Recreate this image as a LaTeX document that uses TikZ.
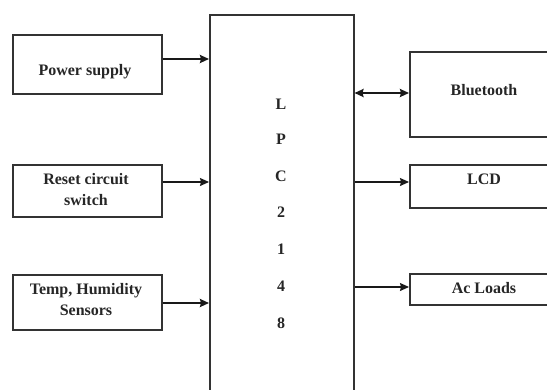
\documentclass[tikz,border=0pt]{standalone}
\usepackage{fontspec}
\setmainfont{Liberation Serif}
\usetikzlibrary{arrows.meta}
\begin{document}
\begin{tikzpicture}[x=1pt,y=-1pt,
  box/.style={draw=black!80,line width=1.5pt,inner sep=0pt,anchor=north west},
  txt/.style={font=\fontsize{16}{21}\selectfont\bfseries,text=black!85,align=center,inner sep=0pt},
  thk/.style={line width=2.6pt,draw=black!90,-{Stealth[length=9pt,width=8pt,inset=1pt]}},
  thn/.style={line width=1.1pt,draw=black!90,-{Stealth[length=9pt,width=8pt,inset=1pt]}},
  dbl/.style={line width=2.6pt,draw=black!90,{Stealth[length=9pt,width=8pt,inset=1pt]}-{Stealth[length=9pt,width=8pt,inset=1pt]}}]
\useasboundingbox (0,0) rectangle (547,389);
\clip (0,0) rectangle (547,389);
% left boxes
\node[box,minimum width=149pt,minimum height=59pt] (ps) at (12,34) {};
\node[box,minimum width=149pt,minimum height=52pt] (rs) at (12,164) {};
\node[box,minimum width=149pt,minimum height=55pt] (ts) at (12,274) {};
% central block
\node[box,minimum width=144pt,minimum height=390pt] (lpc) at (209,14) {};
% right boxes
\node[box,minimum width=150pt,minimum height=85pt] (bt) at (409,51) {};
\node[box,minimum width=150pt,minimum height=43pt] (lcd) at (409,164) {};
\node[box,minimum width=150pt,minimum height=31pt] (ac) at (409,273) {};
% texts
\node[txt] (tps) at (85,72) {Power supply};
\node[txt] (trs) at (86,190) {Reset circuit\\switch};
\node[txt] (tts) at (86,300) {Temp, Humidity\\Sensors};
\node[txt] (tbt) at (484,90) {Bluetooth};
\node[txt] (tlcd) at (484,179) {LCD};
\node[txt] (tac) at (484,288) {Ac Loads};
\node[txt] (l1) at (281,104) {L};
\node[txt] (l2) at (281,139) {P};
\node[txt] (l3) at (281,176) {C};
\node[txt] (l4) at (281,212) {2};
\node[txt] (l5) at (281,249) {1};
\node[txt] (l6) at (281,286) {4};
\node[txt] (l7) at (281,323) {8};
% connectors
\draw[thk] (ps.east |- 0,59) -- (lpc.west |- 0,59);
\draw[thn] (rs.east |- 0,182) -- (lpc.west |- 0,182);
\draw[thk] (ts.east |- 0,303) -- (lpc.west |- 0,303);
\draw[dbl] (lpc.east |- 0,93) -- (bt.west |- 0,93);
\draw[thn] (lpc.east |- 0,182) -- (lcd.west |- 0,182);
\draw[thn] (lpc.east |- 0,287) -- (ac.west |- 0,287);
\end{tikzpicture}
\end{document}
